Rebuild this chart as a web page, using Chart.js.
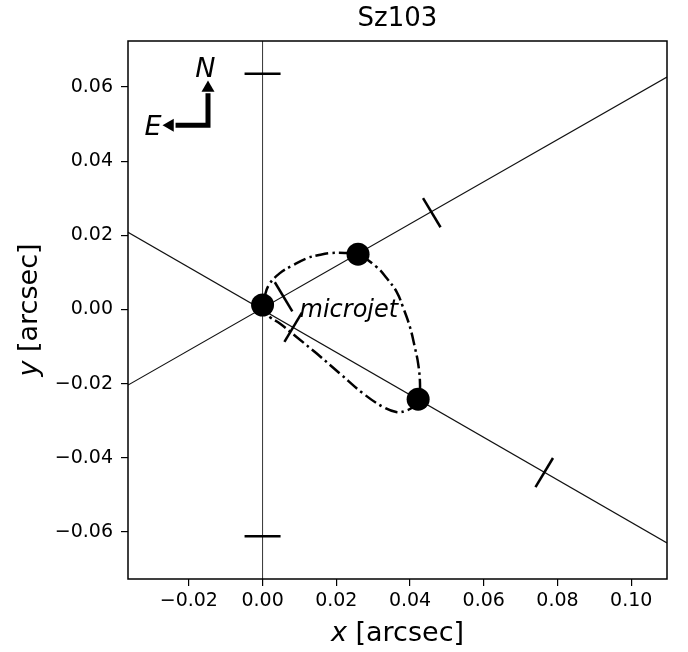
<!DOCTYPE html>
<html>
<head>
<meta charset="utf-8">
<script src="https://cdn.jsdelivr.net/npm/chart.js@4.4.0/dist/chart.umd.min.js"></script>
<style>
  html, body { margin: 0; padding: 0; background: #fff; }
  #wrap { width: 688px; height: 652px; }
</style>
</head>
<body>
<div id="wrap"><canvas id="sz103"></canvas></div>
<script>
// --- DATA ---
const xRange = [-0.0365, 0.1097];
const yRange = [-0.0727, 0.0724];
const xTicks = [-0.02, 0.00, 0.02, 0.04, 0.06, 0.08, 0.10];
const yTicks = [-0.06, -0.04, -0.02, 0.00, 0.02, 0.04, 0.06];

// knots (big dots)
const knotX = [0.0000, 0.0259, 0.0422];
const knotY = [0.0012, 0.0149, -0.0242];

// vertical N-S line through the star and its marks
const nsLineX = [0, 0];
const nsLineY = [-0.0727, 0.0724];
const nsMarkX = [0, 0];
const nsMarkY = [0.0636, -0.0612];

// the two jet axes
const axisAX = [-0.0365, 0.1097];
const axisAY = [-0.0204, 0.0627];
const axisBX = [-0.0365, 0.1097];
const axisBY = [0.0208, -0.0630];

// cross marks on the axes
const markAX = [0.0459, 0.0057];
const markAY = [0.0261, 0.0034];
const markBX = [0.0764, 0.0083];
const markBY = [-0.0440, -0.0048];

// dash-dot loop around the microjet
const loopX = [0.0004, 0.0017, 0.0047, 0.0082, 0.0120, 0.0150, 0.0183, 0.0229, 0.0259,
               0.0310, 0.0337, 0.0364, 0.0381, 0.0400, 0.0413, 0.0422, 0.0427, 0.0424,
               0.0411, 0.0392, 0.0365, 0.0327, 0.0272, 0.0210, 0.0147, 0.0093, 0.0047,
               0.0020, 0.0004];
const loopY = [0.0030, 0.0066, 0.0098, 0.0119, 0.0138, 0.0146, 0.0152, 0.0152, 0.0149,
               0.0114, 0.0084, 0.0047, 0.0006, -0.0048, -0.0102, -0.0146, -0.0200, -0.0239,
               -0.0261, -0.0272, -0.0277, -0.0263, -0.0226, -0.0173, -0.0119, -0.0075, -0.0038,
               -0.0021, -0.0007];

// compass (E / N arrows)
const compassX = [-0.0148, -0.0148, -0.0236];
const compassY = [0.0583, 0.0497, 0.0497];
const headNX = [-0.0148], headNY = [0.0597];
const headEX = [-0.0251], headEY = [0.0497];

// text labels
const labels = [
  { text: 'N', x: -0.0155, y: 0.0627 },
  { text: 'E', x: -0.0297, y: 0.0470 },
  { text: 'microjet', x: 0.0234, y: -0.0020 }
];

const pts = (xs, ys) => xs.map((x, i) => ({ x: x, y: ys[i] }));
const fmt = v => v.toFixed(2).replace('-', '\u2212');
const FONT = "'DejaVu Sans', sans-serif";

// --- PLUGINS ---
const framePlugin = {
    id: 'frame',
    afterDatasetsDraw(chart) {
        const { ctx, chartArea: a } = chart;
        ctx.save();
        ctx.strokeStyle = '#000';
        ctx.lineWidth = 1.5;
        ctx.strokeRect(a.left, a.top, a.right - a.left, a.bottom - a.top);
        ctx.restore();
    }
};

const textPlugin = {
    id: 'texts',
    afterDraw(chart) {
        const { ctx, chartArea: a } = chart;
        const xs = chart.scales.x, ys = chart.scales.y;
        ctx.save();
        ctx.fillStyle = '#000';
        ctx.textBaseline = 'alphabetic';
        ctx.textAlign = 'center';

        labels.forEach(l => {
            ctx.font = (l.text === 'microjet' ? 'italic 24px ' : 'italic 27px ') + FONT;
            ctx.fillText(l.text, xs.getPixelForValue(l.x), ys.getPixelForValue(l.y));
        });

        // axis titles, variable in italic
        const drawMixed = (cx, cy, rot, v) => {
            ctx.save();
            ctx.translate(cx, cy);
            ctx.rotate(rot);
            ctx.textAlign = 'left';
            ctx.font = 'italic 27px ' + FONT;
            const w1 = ctx.measureText(v).width;
            ctx.font = '27px ' + FONT;
            const rest = ' [arcsec]';
            const w2 = ctx.measureText(rest).width;
            const x0 = -(w1 + w2) / 2;
            ctx.font = 'italic 27px ' + FONT;
            ctx.fillText(v, x0, 0);
            ctx.font = '27px ' + FONT;
            ctx.fillText(rest, x0 + w1, 0);
            ctx.restore();
        };
        drawMixed((a.left + a.right) / 2, 641, 0, 'x');
        drawMixed(37, (a.top + a.bottom) / 2, -Math.PI / 2, 'y');
        ctx.restore();
    }
};

// --- CHART ---
const ctx = document.getElementById('sz103').getContext('2d');
new Chart(ctx, {
    type: 'scatter',
    data: {
        datasets: [
            {
                data: pts(knotX, knotY),
                pointRadius: 11.5,
                pointBackgroundColor: '#000',
                pointBorderWidth: 0
            },
            {
                data: pts(loopX, loopY),
                showLine: true,
                borderColor: '#000',
                borderWidth: 2.5,
                borderDash: [13, 4, 2.5, 4],
                tension: 0.4,
                pointRadius: 0
            },
            {
                data: pts(markAX, markAY),
                pointStyle: 'line',
                rotation: 59,
                pointRadius: 17,
                pointBorderColor: '#000',
                pointBorderWidth: 2.5
            },
            {
                data: pts(markBX, markBY),
                pointStyle: 'line',
                rotation: -59,
                pointRadius: 17,
                pointBorderColor: '#000',
                pointBorderWidth: 2.5
            },
            {
                data: pts(nsMarkX, nsMarkY),
                pointStyle: 'line',
                rotation: 0,
                pointRadius: 18,
                pointBorderColor: '#000',
                pointBorderWidth: 2.5
            },
            {
                data: pts(nsLineX, nsLineY),
                showLine: true,
                borderColor: '#333',
                borderWidth: 1,
                pointRadius: 0
            },
            {
                data: pts(axisAX, axisAY),
                showLine: true,
                borderColor: '#111',
                borderWidth: 1.2,
                pointRadius: 0
            },
            {
                data: pts(axisBX, axisBY),
                showLine: true,
                borderColor: '#111',
                borderWidth: 1.2,
                pointRadius: 0
            },
            {
                data: pts(compassX, compassY),
                showLine: true,
                borderColor: '#000',
                borderWidth: 5,
                borderJoinStyle: 'miter',
                pointRadius: 0
            },
            {
                data: pts(headNX, headNY),
                pointStyle: 'triangle',
                rotation: 0,
                pointRadius: 7.5,
                pointBackgroundColor: '#000',
                pointBorderWidth: 0
            },
            {
                data: pts(headEX, headEY),
                pointStyle: 'triangle',
                rotation: -90,
                pointRadius: 7.5,
                pointBackgroundColor: '#000',
                pointBorderWidth: 0
            }
        ]
    },
    options: {
        responsive: true,
        maintainAspectRatio: false,
        animation: false,
        layout: { padding: { left: 0, right: 21, top: 0, bottom: 0 } },
        plugins: {
            legend: { display: false },
            tooltip: { enabled: false },
            title: {
                display: true,
                text: 'Sz103',
                fullSize: false,
                color: '#000',
                font: { family: FONT, size: 26, weight: 'normal', lineHeight: 1.2 },
                padding: { top: 4, bottom: 5.8 }
            }
        },
        scales: {
            x: {
                type: 'linear',
                min: xRange[0],
                max: xRange[1],
                afterFit: s => { s.height = 73; },
                afterBuildTicks: s => { s.ticks = xTicks.map(v => ({ value: v })); },
                border: { display: false },
                grid: { drawOnChartArea: false, drawTicks: true, tickLength: 7, color: '#000', lineWidth: 1.2 },
                ticks: {
                    color: '#000',
                    padding: 4,
                    maxRotation: 0,
                    autoSkip: false,
                    font: { family: FONT, size: 19 },
                    callback: v => fmt(v)
                }
            },
            y: {
                type: 'linear',
                min: yRange[0],
                max: yRange[1],
                afterFit: s => { s.width = 128; },
                afterBuildTicks: s => { s.ticks = yTicks.map(v => ({ value: v })); },
                border: { display: false },
                grid: { drawOnChartArea: false, drawTicks: true, tickLength: 7, color: '#000', lineWidth: 1.2 },
                ticks: {
                    color: '#000',
                    padding: 8,
                    autoSkip: false,
                    font: { family: FONT, size: 19 },
                    callback: v => fmt(v)
                }
            }
        }
    },
    plugins: [framePlugin, textPlugin]
});
</script>
</body>
</html>
